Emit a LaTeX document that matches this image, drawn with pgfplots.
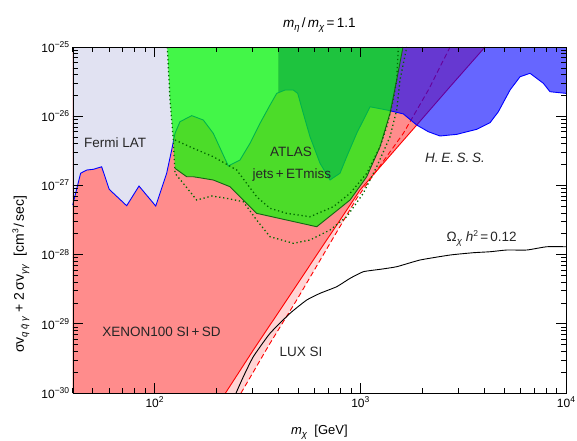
\documentclass[border=0pt]{standalone}
\usepackage{pgfplots}
\pgfplotsset{compat=1.18}
\usepackage{fontspec}
\setmainfont{Liberation Sans}
\newcommand\sub[1]{\raisebox{-0.45ex}{\fontsize{9.5}{9.5}\selectfont #1}}
\newcommand\super[1]{\raisebox{0.75ex}{\fontsize{8.5}{8.5}\selectfont #1}}
\definecolor{salmon}{RGB}{255,140,140}
\definecolor{luxpink}{RGB}{255,212,212}
\definecolor{fermi}{RGB}{225,226,242}
\definecolor{dkgreen}{RGB}{20,100,20}
\definecolor{dotgreen}{RGB}{0,105,0}
\begin{document}
\begin{tikzpicture}
\begin{axis}[
  at={(0pt,0pt)}, anchor=south west,
  scale only axis, width=493.3pt, height=346pt,
  xmode=log, ymode=log,
  xmin=40, xmax=10000, ymin=1e-30, ymax=1e-25,
  xtick={100,1000,10000},
  xticklabels={10\super{2},10\super{3},10\super{4}},
  minor xtick={40,50,60,70,80,90,200,300,400,500,600,700,800,900,2000,3000,4000,5000,6000,7000,8000,9000},
  ytick={1e-30,1e-29,1e-28,1e-27,1e-26,1e-25},
  yticklabels={10\super{−30},10\super{−29},10\super{−28},10\super{−27},10\super{−26},10\super{−25}},
  minor ytick={2e-30,3e-30,4e-30,5e-30,6e-30,7e-30,8e-30,9e-30,
               2e-29,3e-29,4e-29,5e-29,6e-29,7e-29,8e-29,9e-29,
               2e-28,3e-28,4e-28,5e-28,6e-28,7e-28,8e-28,9e-28,
               2e-27,3e-27,4e-27,5e-27,6e-27,7e-27,8e-27,9e-27,
               2e-26,3e-26,4e-26,5e-26,6e-26,7e-26,8e-26,9e-26},
  tick align=inside,
  major tick length=10pt, minor tick length=5pt,
  tick style={black, line width=0.7pt},
  ticklabel style={font=\fontsize{12}{12}\selectfont},
  axis on top,
  clip=false,
  title={\textit{m}\sub{\textit{η}}\,/\,\textit{m}\sub{\textit{χ}}\,=\,1.1},
  title style={font=\fontsize{13.5}{13.5}\selectfont, at={(axis description cs:0.5,1.047)}, anchor=center},
  xlabel={\textit{m}\sub{\textit{χ}}\ \ [GeV]},
  xlabel style={font=\fontsize{13}{13}\selectfont, at={(axis description cs:0.5,-0.113)}, anchor=center},
]
% LUX SI (light pink)
\addplot[fill=luxpink, draw=none] coordinates {
 (40,1e-30) (263.2,1e-30) (364.1,5.23e-30) (490.9,2.21e-29) (712.8,1.457e-28)
 (960.6,6.51e-28) (1619,5.66e-27) (2142,2.39e-26) (2731,1e-25) (40,1e-25)} -- cycle;
% XENON100 (salmon)
\addplot[fill=salmon, draw=none] coordinates {
 (40,1e-30) (221.2,1e-30) (302,4.18e-30) (439,2.21e-29) (637.2,1.166e-28)
 (859,4.41e-28) (997,8.58e-28) (1395,2.70e-27) (1881,7.46e-27) (2755,2.75e-26)
 (4040,1e-25) (40,1e-25)} -- cycle;
% red lines
\addplot[red, line width=0.9pt] coordinates {
 (221.2,1e-30) (302,4.18e-30) (439,2.21e-29) (637.2,1.166e-28)
 (859,4.41e-28) (997,8.58e-28) (1395,2.70e-27) (1881,7.46e-27) (2755,2.75e-26) (4040,1e-25)};
\addplot[red, line width=0.9pt, dash pattern=on 5pt off 3pt] coordinates {
 (263.2,1e-30) (364.1,5.23e-30) (490.9,2.21e-29) (712.8,1.457e-28)
 (960.6,6.51e-28) (1619,5.66e-27) (2142,2.39e-26) (2731,1e-25)};
% Fermi LAT (opaque lavender)
\addplot[fill=fermi, draw=none] coordinates {
 (40,1e-25) (40,5.2e-28) (41.5,8.1e-28) (43.7,1.50e-27) (46.8,1.67e-27) (50.4,1.71e-27)
 (55.3,1.86e-27) (60.2,8.78e-28) (73.2,5.09e-28) (84.0,9.8e-28) (101.3,5.04e-28)
 (114.5,1.50e-27) (121.1,3.25e-27) (125.7,5.66e-27) (132.9,8.33e-27) (151.6,1.02e-26)
 (172.6,8.81e-27) (193,5.66e-27) (212.1,3.07e-27) (228.3,1.91e-27) (260.2,2.33e-27)
 (291,4.06e-27) (325.6,7.90e-27) (364.1,1.45e-26) (392.5,2.14e-26) (400,2.17e-26)
 (400,1e-25)} -- cycle;
% H.E.S.S. (translucent blue)
\addplot[fill=blue, fill opacity=0.6, draw=none] coordinates {
 (400,1e-25) (400,2.17e-26) (430.7,2.39e-26) (472.6,2.39e-26) (496.4,2.14e-26)
 (528.4,1.10e-26) (569.6,5.06e-27) (637.2,2.09e-27) (712.8,1.20e-27) (797,1.50e-27)
 (859,2.60e-27) (960.6,5.66e-27) (1115,1.37e-26) (1345,1.23e-26) (1395,1.20e-26)
 (1619,1.08e-26) (1881,7.46e-27) (2142,5.97e-27) (2441,5.18e-27) (2943,5.47e-27)
 (3681,6.47e-27) (4273,8.06e-27) (4688,1.16e-26) (5344,2.39e-26) (5976,3.72e-26)
 (6685,4.17e-26) (7759,2.99e-26) (8364,2.26e-26) (10000,2.14e-26) (10000,1e-25)} -- cycle;
% Fermi + HESS boundary line
\addplot[blue, line width=0.9pt] coordinates {
 (40,5.2e-28) (41.5,8.1e-28) (43.7,1.50e-27) (46.8,1.67e-27) (50.4,1.71e-27)
 (55.3,1.86e-27) (60.2,8.78e-28) (73.2,5.09e-28) (84.0,9.8e-28) (101.3,5.04e-28)
 (114.5,1.50e-27) (121.1,3.25e-27) (125.7,5.66e-27) (132.9,8.33e-27) (151.6,1.02e-26)
 (172.6,8.81e-27) (193,5.66e-27) (212.1,3.07e-27) (228.3,1.91e-27) (260.2,2.33e-27)
 (291,4.06e-27) (325.6,7.90e-27) (364.1,1.45e-26) (392.5,2.14e-26)
 (430.7,2.39e-26) (472.6,2.39e-26) (496.4,2.14e-26)
 (528.4,1.10e-26) (569.6,5.06e-27) (637.2,2.09e-27) (712.8,1.20e-27) (797,1.50e-27)
 (859,2.60e-27) (960.6,5.66e-27) (1115,1.37e-26) (1345,1.23e-26) (1395,1.20e-26)
 (1619,1.08e-26) (1881,7.46e-27) (2142,5.97e-27) (2441,5.18e-27) (2943,5.47e-27)
 (3681,6.47e-27) (4273,8.06e-27) (4688,1.16e-26) (5344,2.39e-26) (5976,3.72e-26)
 (6685,4.17e-26) (7759,2.99e-26) (8364,2.26e-26) (10000,2.14e-26)};
% ATLAS jets+ETmiss (translucent green)
\addplot[fill=green, fill opacity=0.7, draw=none] coordinates {
 (115.3,1e-25) (118.9,1.714e-26) (123.3,4.53e-27) (125.7,1.766e-27) (143.3,1.336e-27)
 (154.3,1.336e-27) (193,1.197e-27) (232.7,9.58e-28) (313.6,3.95e-28) (614.2,2.53e-28)
 (891.5,6.15e-28) (1075,1.336e-27) (1247,3.62e-27) (1395,1.10e-26) (1503,3.34e-26)
 (1613,1e-25)} -- cycle;
\addplot[dkgreen, line width=0.9pt] coordinates {
 (125.7,1.766e-27) (143.3,1.336e-27)
 (154.3,1.336e-27) (193,1.197e-27) (232.7,9.58e-28) (313.6,3.95e-28) (614.2,2.53e-28)
 (891.5,6.15e-28) (1075,1.336e-27) (1247,3.62e-27) (1395,1.10e-26) (1503,3.34e-26)
 (1613,1e-25)};
% dotted ATLAS lines
\addplot[dotgreen, line width=1.3pt, dash pattern=on 1.3pt off 2.7pt] coordinates {
 (125.7,4.53e-27) (154.3,3.44e-27) (193,2.60e-27) (250.8,1.669e-27) (313.6,6.87e-28)
 (364.1,4.67e-28) (439,3.95e-28) (569.6,3.53e-28) (739.5,4.92e-28) (891.5,7.69e-28)
 (1075,1.496e-27) (1247,3.62e-27) (1345,7.05e-27) (1447,1.714e-26) (1503,3.34e-26) (1531,1e-25)};
\addplot[dotgreen, line width=1.3pt, dash pattern=on 1.3pt off 2.7pt] coordinates {
 (115.3,1e-25) (118.9,1.714e-26) (123.3,4.53e-27) (125.7,1.496e-27) (137.9,1.072e-27)
 (160.3,6.15e-28) (189.6,7.03e-28) (224.2,6.51e-28) (270.1,5.81e-28) (313.6,3.16e-28)
 (364.1,1.815e-28) (472.6,1.457e-28) (569.6,1.626e-28) (712.8,2.27e-28) (859,3.53e-28)
 (1034,7.69e-28) (1202,1.863e-27) (1395,5.06e-27) (1503,1.229e-26) (1560,3.34e-26) (1682,1e-25)};
% relic density line
\addplot[black, line width=0.9pt, smooth, tension=0.3] coordinates {
 (248.9,1e-30) (270.1,1.72e-30) (302,3.35e-30) (364.1,7.29e-30) (455.4,1.418e-29)
 (549.1,2.21e-29) (637.2,2.76e-29) (768.1,3.44e-29) (891.5,4.54e-29) (1034,5.66e-29)
 (1247,6.13e-29) (1503,6.69e-29) (1952,8.36e-29) (2731,9.87e-29) (3544,1.066e-28)
 (4273,1.101e-28) (5151,1.166e-28) (6444,1.166e-28) (8059,1.30e-28) (10000,1.30e-28)};
% labels
\begin{scope}[every node/.style={font=\fontsize{13.5}{13.5}\selectfont, text=black!85}]
\node at (axis cs:64.3,4.1e-27) {Fermi LAT};
\node at (axis cs:460,3.04e-27) {ATLAS};
\node at (axis cs:465,1.414e-27) {jets\,+\,ETmiss};
\node at (axis cs:2887,2.49e-27) {\textit{H.\hspace{0.2em}E.\hspace{0.2em}S.\hspace{0.2em}S.}};
\node at (axis cs:3894,1.72e-28) {Ω\sub{\textit{χ}}\ \textit{h}\super{2}\,=\,0.12};
\node at (axis cs:108.1,7.61e-30) {XENON100 SI\,+\,SD};
\node at (axis cs:515.6,3.91e-30) {LUX SI};
\end{scope}
\node[rotate=90, anchor=center, font=\fontsize{14}{14}\selectfont] at (axis description cs:-0.105,0.344)
  {σv\sub{\textit{q}\hspace{0.2em}\textit{\={q}}\hspace{0.2em}\textit{γ}}\hspace{0.25em}+\hspace{0.25em}2\hspace{0.2em}σv\sub{\textit{γγ}}\hspace{0.6em}[cm\super{3}\hspace{0.15em}/\hspace{0.15em}sec]};
\end{axis}
\pgfresetboundingbox
\path[use as bounding box] (-72.7pt,-47pt) rectangle (504.3pt,393pt);
\end{tikzpicture}
\end{document}
